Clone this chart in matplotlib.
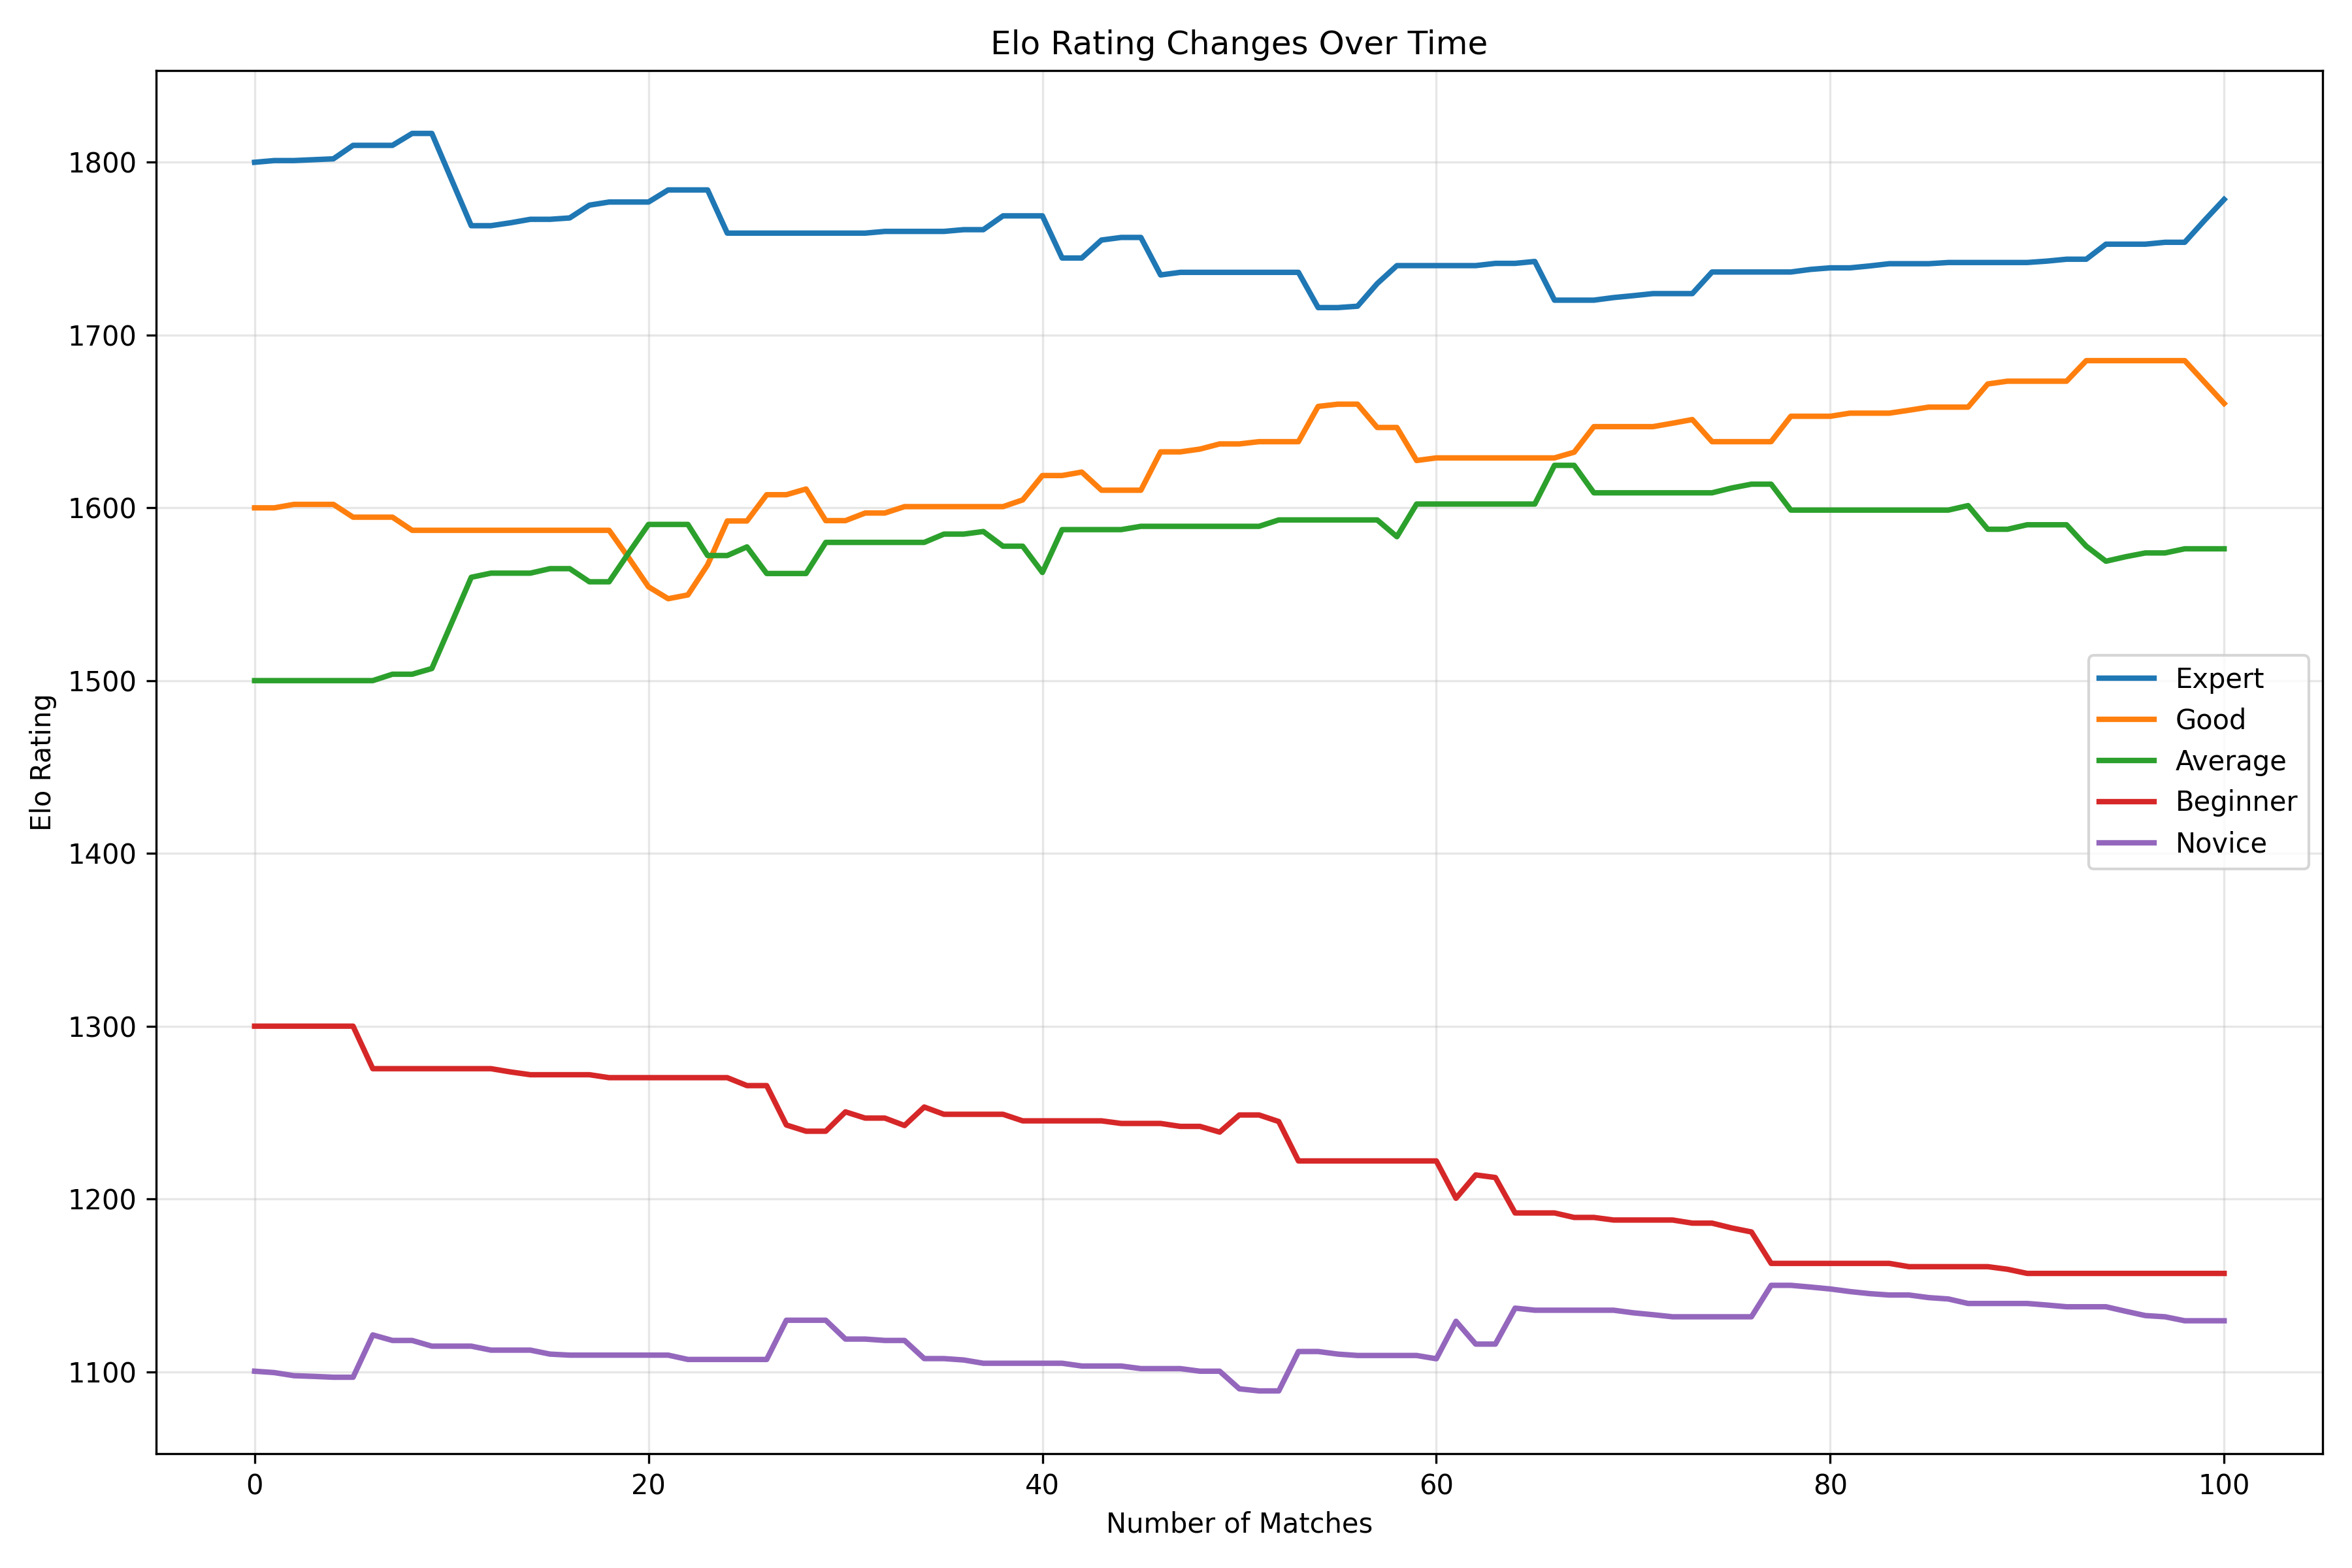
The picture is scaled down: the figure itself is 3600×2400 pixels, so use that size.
import matplotlib
matplotlib.use('Agg')
import matplotlib.pyplot as plt

# match number 0..100
matches = list(range(101))

expert = [1800.0, 1801.0, 1801.0, 1801.5, 1802.0, 1809.8, 1809.8, 1809.8, 1816.7, 1816.7,
          1790.0, 1763.3, 1763.3, 1765.0, 1767.0, 1767.0, 1767.8, 1775.2, 1777.0, 1777.0,
          1777.0, 1784.0, 1784.0, 1784.0, 1759.0, 1759.0, 1759.0, 1759.0, 1759.0, 1759.0,
          1759.0, 1759.0, 1760.0, 1760.0, 1760.0, 1760.0, 1761.0, 1761.0, 1769.0, 1769.0,
          1769.0, 1744.6, 1744.6, 1755.0, 1756.5, 1756.5, 1734.8, 1736.3, 1736.3, 1736.3,
          1736.3, 1736.3, 1736.3, 1736.3, 1715.9, 1715.9, 1716.7, 1729.8, 1740.2, 1740.2,
          1740.2, 1740.2, 1740.2, 1741.5, 1741.5, 1742.6, 1720.2, 1720.2, 1720.2, 1721.7,
          1722.8, 1724.0, 1724.0, 1724.0, 1736.5, 1736.5, 1736.5, 1736.5, 1736.5, 1738.0,
          1738.9, 1738.9, 1740.0, 1741.3, 1741.3, 1741.3, 1742.0, 1742.0, 1742.0, 1742.0,
          1742.0, 1742.8, 1743.9, 1743.9, 1752.6, 1752.6, 1752.6, 1753.7, 1753.7, 1766.3,
          1778.5]

good = [1600.0, 1600.0, 1602.0, 1602.0, 1602.0, 1594.6, 1594.6, 1594.6, 1587.0, 1587.0,
        1587.0, 1587.0, 1587.0, 1587.0, 1587.0, 1587.0, 1587.0, 1587.0, 1587.0, 1571.0,
        1554.3, 1547.4, 1549.6, 1567.0, 1592.4, 1592.4, 1607.6, 1607.6, 1610.9, 1592.6,
        1592.6, 1597.0, 1597.0, 1600.7, 1600.7, 1600.7, 1600.7, 1600.7, 1600.7, 1604.6,
        1618.7, 1618.7, 1620.7, 1610.2, 1610.2, 1610.2, 1632.4, 1632.4, 1634.0, 1637.0,
        1637.0, 1638.3, 1638.3, 1638.3, 1658.7, 1660.0, 1660.0, 1646.5, 1646.5, 1627.4,
        1628.9, 1628.9, 1628.9, 1628.9, 1628.9, 1628.9, 1628.9, 1632.2, 1647.0, 1647.0,
        1647.0, 1647.0, 1649.0, 1651.1, 1638.3, 1638.3, 1638.3, 1638.3, 1653.0, 1653.0,
        1653.0, 1654.8, 1654.8, 1654.8, 1656.5, 1658.3, 1658.3, 1658.3, 1671.7, 1673.3,
        1673.3, 1673.3, 1673.3, 1685.2, 1685.2, 1685.2, 1685.2, 1685.2, 1685.2, 1672.8,
        1660.4]

average = [1500.0, 1500.0, 1500.0, 1500.0, 1500.0, 1500.0, 1500.0, 1503.7, 1503.7, 1507.0,
           1533.3, 1559.8, 1562.2, 1562.2, 1562.2, 1564.8, 1564.8, 1557.2, 1557.2, 1574.0,
           1590.4, 1590.4, 1590.4, 1572.4, 1572.4, 1577.4, 1562.0, 1562.0, 1562.0, 1580.0,
           1580.0, 1580.0, 1580.0, 1580.0, 1580.0, 1584.8, 1584.8, 1586.3, 1577.8, 1577.8,
           1562.6, 1587.4, 1587.4, 1587.4, 1587.4, 1589.3, 1589.3, 1589.3, 1589.3, 1589.3,
           1589.3, 1589.3, 1593.0, 1593.0, 1593.0, 1593.0, 1593.0, 1593.0, 1583.3, 1602.2,
           1602.2, 1602.2, 1602.2, 1602.2, 1602.2, 1602.2, 1624.6, 1624.6, 1608.7, 1608.7,
           1608.7, 1608.7, 1608.7, 1608.7, 1608.7, 1611.5, 1613.7, 1613.7, 1598.7, 1598.7,
           1598.7, 1598.7, 1598.7, 1598.7, 1598.7, 1598.7, 1598.7, 1601.3, 1587.6, 1587.6,
           1590.2, 1590.2, 1590.2, 1577.8, 1569.1, 1571.7, 1573.9, 1573.9, 1576.3, 1576.3,
           1576.3]

beginner = [1300.0, 1300.0, 1300.0, 1300.0, 1300.0, 1300.0, 1275.4, 1275.4, 1275.4, 1275.4,
            1275.4, 1275.4, 1275.4, 1273.5, 1271.9, 1271.9, 1271.9, 1271.9, 1270.2, 1270.2,
            1270.2, 1270.2, 1270.2, 1270.2, 1270.2, 1265.6, 1265.6, 1242.8, 1239.2, 1239.2,
            1250.4, 1246.8, 1246.8, 1242.5, 1253.2, 1249.0, 1249.0, 1249.0, 1249.0, 1245.2,
            1245.2, 1245.2, 1245.2, 1245.2, 1243.7, 1243.7, 1243.7, 1242.0, 1242.0, 1238.7,
            1248.6, 1248.6, 1244.8, 1222.0, 1222.0, 1222.0, 1222.0, 1222.0, 1222.0, 1222.0,
            1222.0, 1200.4, 1213.9, 1212.4, 1191.9, 1191.9, 1191.9, 1189.3, 1189.3, 1187.8,
            1187.8, 1187.8, 1187.8, 1186.0, 1186.0, 1183.2, 1180.9, 1162.7, 1162.7, 1162.7,
            1162.7, 1162.7, 1162.7, 1162.7, 1160.8, 1160.8, 1160.8, 1160.8, 1160.8, 1159.3,
            1156.9, 1156.9, 1156.9, 1156.9, 1156.9, 1156.9, 1156.9, 1156.9, 1156.9, 1156.9,
            1156.9]

novice = [1100.3, 1099.5, 1097.7, 1097.3, 1096.8, 1096.8, 1121.3, 1118.1, 1118.1, 1114.8,
          1114.8, 1114.8, 1112.5, 1112.5, 1112.5, 1110.2, 1109.6, 1109.6, 1109.6, 1109.6,
          1109.6, 1109.6, 1107.1, 1107.1, 1107.1, 1107.1, 1107.1, 1129.8, 1129.8, 1129.8,
          1118.9, 1118.9, 1118.1, 1118.1, 1107.6, 1107.6, 1106.8, 1104.9, 1104.9, 1104.9,
          1104.9, 1104.9, 1103.3, 1103.3, 1103.3, 1101.8, 1101.8, 1101.8, 1100.3, 1100.3,
          1090.1, 1088.9, 1088.9, 1111.7, 1111.7, 1110.2, 1109.4, 1109.4, 1109.4, 1109.4,
          1107.5, 1129.2, 1116.0, 1116.0, 1136.8, 1135.6, 1135.6, 1135.6, 1135.6, 1135.6,
          1134.1, 1133.0, 1131.8, 1131.8, 1131.8, 1131.8, 1131.8, 1150.0, 1150.0, 1149.0,
          1147.9, 1146.4, 1145.2, 1144.4, 1144.4, 1142.9, 1142.1, 1139.5, 1139.5, 1139.5,
          1139.5, 1138.6, 1137.6, 1137.6, 1137.6, 1135.0, 1132.5, 1131.8, 1129.5, 1129.5,
          1129.5]

fig, ax = plt.subplots(figsize=(12, 8), dpi=300)

ax.plot(matches, expert, linewidth=2, label='Expert')
ax.plot(matches, good, linewidth=2, label='Good')
ax.plot(matches, average, linewidth=2, label='Average')
ax.plot(matches, beginner, linewidth=2, label='Beginner')
ax.plot(matches, novice, linewidth=2, label='Novice')

ax.set_title('Elo Rating Changes Over Time')
ax.set_xlabel('Number of Matches')
ax.set_ylabel('Elo Rating')
ax.grid(alpha=0.3)
ax.legend(loc='center right')

plt.tight_layout()
plt.savefig('out.png', dpi=300)
